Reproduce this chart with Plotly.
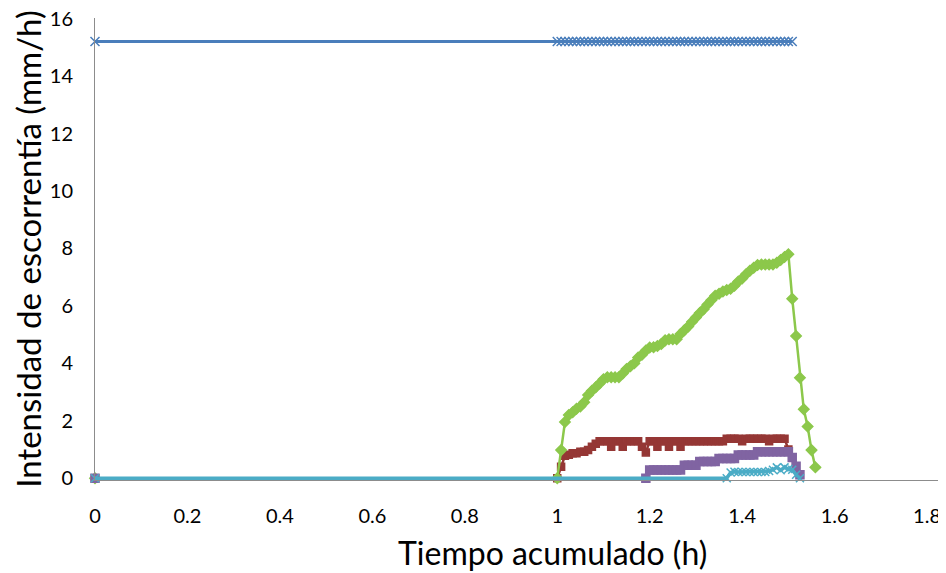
import plotly.graph_objects as go

# tiempo en minutos: 0 y luego cada 30 s desde 60 hasta 93.5 min
tiempo_min = [0,
              60.0, 60.5, 61.0, 61.5, 62.0, 62.5, 63.0, 63.5, 64.0, 64.5,
              65.0, 65.5, 66.0, 66.5, 67.0, 67.5, 68.0, 68.5, 69.0, 69.5,
              70.0, 70.5, 71.0, 71.5, 72.0, 72.5, 73.0, 73.5, 74.0, 74.5,
              75.0, 75.5, 76.0, 76.5, 77.0, 77.5, 78.0, 78.5, 79.0, 79.5,
              80.0, 80.5, 81.0, 81.5, 82.0, 82.5, 83.0, 83.5, 84.0, 84.5,
              85.0, 85.5, 86.0, 86.5, 87.0, 87.5, 88.0, 88.5, 89.0, 89.5,
              90.0, 90.5, 91.0, 91.5, 92.0, 92.5, 93.0, 93.5]
tiempo_h = [t / 60 for t in tiempo_min]

N = None
serie_azul = [15.2,
    15.2, 15.2, 15.2, 15.2, 15.2, 15.2, 15.2, 15.2, 15.2, 15.2,
    15.2, 15.2, 15.2, 15.2, 15.2, 15.2, 15.2, 15.2, 15.2, 15.2,
    15.2, 15.2, 15.2, 15.2, 15.2, 15.2, 15.2, 15.2, 15.2, 15.2,
    15.2, 15.2, 15.2, 15.2, 15.2, 15.2, 15.2, 15.2, 15.2, 15.2,
    15.2, 15.2, 15.2, 15.2, 15.2, 15.2, 15.2, 15.2, 15.2, 15.2,
    15.2, 15.2, 15.2, 15.2, 15.2, 15.2, 15.2, 15.2, 15.2, 15.2,
    15.2, 15.2, N, N, N, N, N, N]

serie_roja = [0,
    0.0, 0.4, 0.78, 0.82, 0.87, 0.87, 0.92, 0.92, 0.98, 1.1,
    1.2, 1.29, 1.29, 1.29, 1.1, 1.29, 1.29, 1.1, 1.29, 1.29,
    1.29, 1.29, 1.1, 0.9, 1.29, 1.29, 1.1, 1.29, 1.29, 1.1,
    1.29, 1.29, 1.1, 1.29, 1.29, 1.29, 1.29, 1.29, 1.29, 1.29,
    1.29, 1.29, 1.29, 1.29, 1.38, 1.38, 1.38, 1.38, 1.29, 1.38,
    1.38, 1.38, 1.38, 1.38, 1.38, 1.29, 1.38, 1.38, 1.38, 1.38,
    1.0, N, N, N, N, N, N, N]

serie_verde = [0,
    0.0, 0.98, 1.96, 2.2, 2.3, 2.42, 2.5, 2.65, 2.9, 3.05,
    3.17, 3.3, 3.45, 3.52, 3.52, 3.52, 3.52, 3.65, 3.8, 3.9,
    4.0, 4.2, 4.3, 4.45, 4.55, 4.56, 4.6, 4.67, 4.8, 4.84,
    4.84, 4.84, 5.02, 5.15, 5.28, 5.45, 5.6, 5.75, 5.88, 6.05,
    6.2, 6.35, 6.42, 6.5, 6.55, 6.6, 6.7, 6.85, 6.95, 7.1,
    7.22, 7.33, 7.42, 7.44, 7.44, 7.44, 7.44, 7.5, 7.6, 7.7,
    7.8, 6.25, 4.95, 3.5, 2.4, 1.8, 0.98, 0.38]

serie_morada = [0,
    N, N, N, N, N, N, N, N, N, N,
    N, N, N, N, N, N, N, N, N, N,
    N, N, N, 0.0, 0.29, 0.29, 0.29, 0.29, 0.29, 0.29,
    0.29, 0.29, 0.29, 0.45, 0.45, 0.45, 0.45, 0.58, 0.58, 0.58,
    0.58, 0.58, 0.69, 0.69, 0.69, 0.69, 0.69, 0.81, 0.81, 0.81,
    0.81, 0.81, 0.92, 0.92, 0.92, 0.92, 0.92, 0.92, 0.92, 0.92,
    0.92, 0.72, 0.42, 0.12, N, N, N, N]

serie_cian = [0,
    N, N, N, N, N, N, N, N, N, N,
    N, N, N, N, N, N, N, N, N, N,
    N, N, N, N, N, N, N, N, N, N,
    N, N, N, N, N, N, N, N, N, N,
    N, N, N, N, 0.0, 0.2, 0.23, 0.22, 0.22, 0.22,
    0.22, 0.22, 0.22, 0.22, 0.22, 0.25, 0.3, 0.38, 0.28, 0.38,
    0.32, 0.3, 0.12, 0.0, N, N, N, N]

ticks_x = [0, 0.2, 0.4, 0.6, 0.8, 1, 1.2, 1.4, 1.6, 1.8]
ticks_y = [0, 2, 4, 6, 8, 10, 12, 14, 16]

series = [
    (serie_azul, '#4A7EBB', 'x-thin', 9, 3),
    (serie_roja, '#953735', 'square', 7, 2.5),
    (serie_verde, '#8CC84B', 'diamond', 8, 2.5),
    (serie_morada, '#8064A2', 'square', 8, 2.5),
    (serie_cian, '#4BACC6', 'x-thin', 8, 3.5),
]

fig = go.Figure()
for ys, color, simbolo, tam, ancho in series:
    fig.add_trace(go.Scatter(
        x=tiempo_h, y=ys, mode='lines+markers', connectgaps=True,
        cliponaxis=False,
        line=dict(color=color, width=ancho),
        marker=dict(symbol=simbolo, size=tam, color=color,
                    line=dict(color=color, width=1.5)),
        showlegend=False,
    ))

# la página añade 8 px de margen al cuerpo, se compensa aquí
fuente = 'Lato, Calibri, sans-serif'
fig.update_layout(
    width=938, height=565,
    margin=dict(l=87, r=6, t=10, b=93),
    plot_bgcolor='white', paper_bgcolor='white',
    font=dict(family=fuente, color='black'),
    xaxis=dict(
        range=[0, 1.828], tickvals=ticks_x, ticktext=[str(t) for t in ticks_x],
        showgrid=False, zeroline=False, showline=True, linecolor='#8C8C8C',
        linewidth=1, tickfont=dict(size=20), ticks='', ticklabelstandoff=18,
        ticklabeloverflow='allow', automargin=False,
    ),
    yaxis=dict(
        range=[-0.06, 16.02], tickvals=ticks_y, showgrid=False, zeroline=False,
        showline=True, linecolor='#8C8C8C', linewidth=1,
        tickfont=dict(size=20), ticks='', ticklabelstandoff=17,
        ticklabeloverflow='allow', automargin=False,
        title=dict(text='Intensidad de escorrentía (mm/h)', font=dict(size=33), standoff=0),
    ),
    annotations=[dict(
        text='Tiempo acumulado (h)', xref='paper', yref='paper',
        x=(544 - 87) / 845, y=-0.156, xanchor='center', yanchor='middle',
        showarrow=False, font=dict(size=32),
    )],
)

fig.write_html("out.html")
